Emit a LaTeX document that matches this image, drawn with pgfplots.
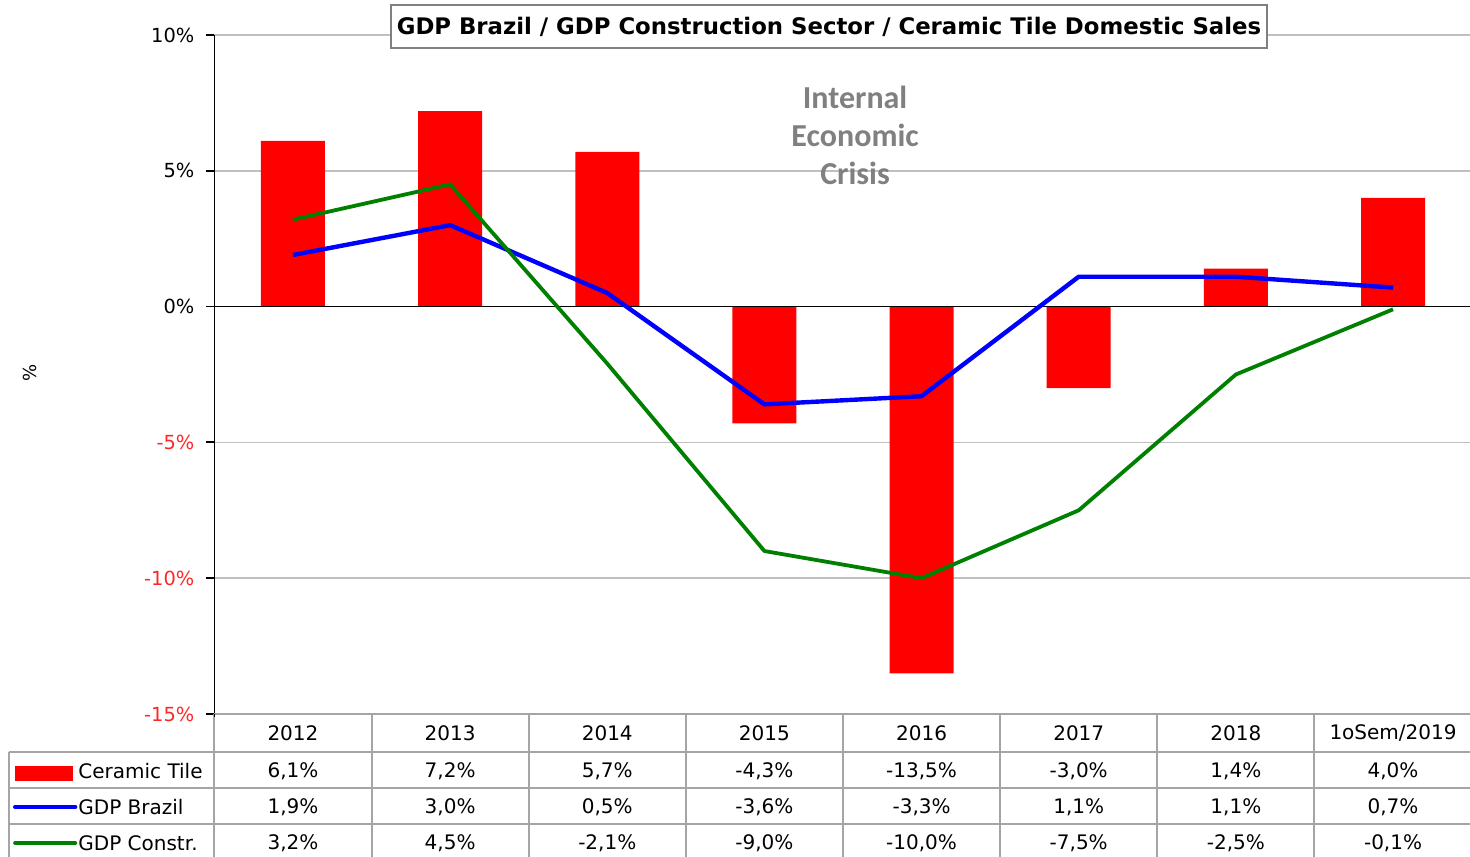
\documentclass[border=0pt]{standalone}
\usepackage{pgfplots}
\pgfplotsset{compat=1.18}
\usepackage{fontspec}
\setmainfont{DejaVu Sans}
\newfontfamily\annfont{Carlito}
\definecolor{gridgray}{RGB}{192,192,192}
\definecolor{tabgray}{RGB}{165,165,165}
\definecolor{anngray}{RGB}{128,128,128}
\definecolor{xgreen}{RGB}{0,128,0}
\definecolor{xblue}{RGB}{0,0,255}
\definecolor{xred}{RGB}{255,0,0}
\definecolor{labred}{RGB}{255,40,40}
\begin{document}
\begin{tikzpicture}
\useasboundingbox (-107.2pt,-71pt) rectangle (627.8pt,357pt);
\begin{axis}[
  scale only axis, width=628.6pt, height=339.5pt,
  xmin=-0.5, xmax=7.5, ymin=-15, ymax=10,
  axis x line=none, axis y line*=left,
  ytick={-15,-10,-5,0,5,10},
  yticklabels={\textcolor{labred}{-15\%},\textcolor{labred}{-10\%},\textcolor{labred}{-5\%},0\%,5\%,10\%},
  yticklabel style={font=\fontsize{9.7}{11}\selectfont, xshift=-2.5pt},
  tick align=outside, major tick length=4pt,
  ymajorgrids, grid style={gridgray, line width=0.8pt},
  y axis line style={black, line width=0.9pt},
  ytick style={black, line width=0.9pt},
  clip=false,
]
\addplot[ybar, bar width=32pt, fill=xred, draw=none] coordinates {
 (0,6.1) (1,7.2) (2,5.7) (3,-4.3) (4,-13.5) (5,-3.0) (6,1.4) (7,4.0)};
\addplot[black, line width=0.9pt] coordinates {(-0.5,0) (7.5,0)};
\addplot[xblue, line width=2.2pt, line join=round] coordinates {
 (0,1.9) (1,3.0) (2,0.5) (3,-3.6) (4,-3.3) (5,1.1) (6,1.1) (7,0.7)};
\addplot[xgreen, line width=1.9pt, line join=round] coordinates {
 (0,3.2) (1,4.5) (2,-2.1) (3,-9.0) (4,-10.0) (5,-7.5) (6,-2.5) (7,-0.1)};
\node[anngray, align=center, font=\annfont\bfseries\fontsize{16}{19}\selectfont] at (axis cs:3.577,6.3) {Internal\\Economic\\Crisis};
\end{axis}
% title box
\node[draw=gray, line width=0.8pt, fill=white, minimum width=438pt, minimum height=21.5pt, inner sep=0pt,
  font=\bfseries\fontsize{11.4}{13}\selectfont] at (307.3pt,343.75pt) {GDP Brazil / GDP Construction Sector / Ceramic Tile Domestic Sales};
% y label
\node[rotate=90, font=\fontsize{9}{10}\selectfont] at (-92.2pt,170.5pt) {\%};
% data table grid
\begin{scope}[tabgray, line width=1pt]
\draw (0,0) -- (630pt,0);
\draw (-102.5pt,-19pt) -- (630pt,-19pt);
\draw (-102.5pt,-37pt) -- (630pt,-37pt);
\draw (-102.5pt,-55pt) -- (630pt,-55pt);
\draw (-102.5pt,-19pt) -- (-102.5pt,-75pt);
\foreach \i in {0,...,8} \draw ({\i*78.575pt},0) -- ({\i*78.575pt},-75pt);
\end{scope}
\draw[black, line width=0.9pt] (0,0) -- (0,-1.5pt);
\begin{scope}[font=\fontsize{10}{12}\selectfont]
\foreach \lab [count=\i from 0] in {2012,2013,2014,2015,2016,2017,2018,1oSem/2019}
  \node at ({(\i+0.5)*78.575pt},-9.5pt) {\lab};
\foreach \lab [count=\i from 0] in {6{,}1\%,7{,}2\%,5{,}7\%,-4{,}3\%,-13{,}5\%,-3{,}0\%,1{,}4\%,4{,}0\%}
  \node at ({(\i+0.5)*78.575pt},-28.5pt) {\lab};
\foreach \lab [count=\i from 0] in {1{,}9\%,3{,}0\%,0{,}5\%,-3{,}6\%,-3{,}3\%,1{,}1\%,1{,}1\%,0{,}7\%}
  \node at ({(\i+0.5)*78.575pt},-46.5pt) {\lab};
\foreach \lab [count=\i from 0] in {3{,}2\%,4{,}5\%,-2{,}1\%,-9{,}0\%,-10{,}0\%,-7{,}5\%,-2{,}5\%,-0{,}1\%}
  \node at ({(\i+0.5)*78.575pt},-64.5pt) {\lab};
% legend column
\fill[xred] (-99.7pt,-25.8pt) rectangle (-70.9pt,-33.5pt);
\draw[xblue, line width=2pt, line cap=round] (-99.7pt,-46.5pt) -- (-69.5pt,-46.5pt);
\draw[xgreen, line width=1.8pt, line cap=round] (-99.7pt,-64.5pt) -- (-69.5pt,-64.5pt);
\node[anchor=west, inner sep=0pt] at (-68.2pt,-28.5pt) {Ceramic Tile};
\node[anchor=west, inner sep=0pt] at (-68.2pt,-46.5pt) {GDP Brazil};
\node[anchor=west, inner sep=0pt] at (-68.2pt,-64.5pt) {GDP Constr.};
\end{scope}
\end{tikzpicture}
\end{document}
